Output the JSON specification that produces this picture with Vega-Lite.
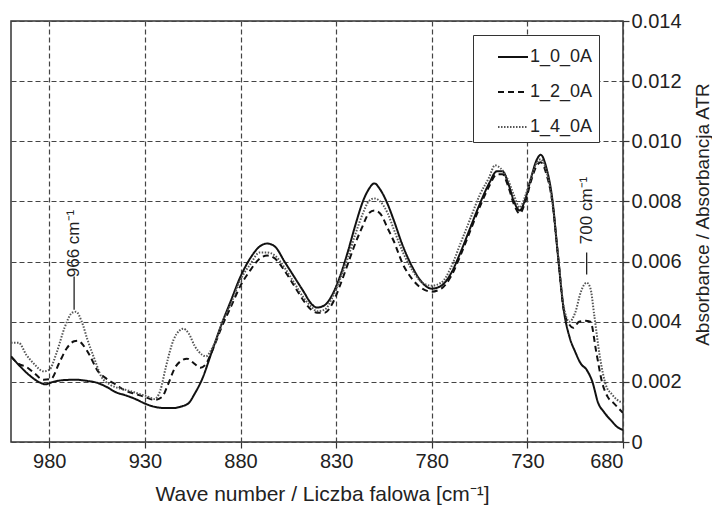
{
  "$schema": "https://vega.github.io/schema/vega-lite/v6.json",
  "width": 612,
  "height": 421,
  "autosize": {"type": "none"},
  "padding": {"left": 11, "top": 21, "right": 89, "bottom": 64},
  "background": "white",
  "config": {
    "font": "Liberation Sans",
    "view": {"stroke": "#333", "strokeWidth": 1.5},
    "axis": {
      "gridColor": "#444", "gridDash": [5, 3], "gridWidth": 1.2, "gridOpacity": 1,
      "domain": false, "tickColor": "#333", "tickSize": 6, "tickWidth": 1.2,
      "labelFont": "Liberation Sans", "labelFontSize": 20, "labelColor": "#222",
      "titleFont": "Liberation Sans", "titleFontWeight": "normal", "titleColor": "#222"
    },
    "legend": {
      "title": null, "orient": "none", "legendX": 462, "legendY": 14,
      "strokeColor": "#333", "fillColor": "white", "padding": 6,
      "symbolType": "stroke", "symbolSize": 900, "symbolOffset": 18,
      "labelFontSize": 18, "labelFont": "Liberation Sans", "labelColor": "#222", "labelOffset": 1, "rowPadding": 10
    }
  },
  "datasets": {
    "spectra": [
      {"s":"1_0_0A","wn":1000,"a":0.00285},{"s":"1_0_0A","wn":995,"a":0.0025},{"s":"1_0_0A","wn":990,"a":0.0022},{"s":"1_0_0A","wn":985,"a":0.00198},{"s":"1_0_0A","wn":982,"a":0.00192},{"s":"1_0_0A","wn":978,"a":0.002},{"s":"1_0_0A","wn":972,"a":0.00206},{"s":"1_0_0A","wn":966,"a":0.00207},{"s":"1_0_0A","wn":960,"a":0.00203},{"s":"1_0_0A","wn":955,"a":0.00197},{"s":"1_0_0A","wn":950,"a":0.00183},{"s":"1_0_0A","wn":945,"a":0.00165},{"s":"1_0_0A","wn":940,"a":0.00155},{"s":"1_0_0A","wn":935,"a":0.00143},{"s":"1_0_0A","wn":930,"a":0.00128},{"s":"1_0_0A","wn":925,"a":0.00117},{"s":"1_0_0A","wn":920,"a":0.00113},{"s":"1_0_0A","wn":915,"a":0.00113},{"s":"1_0_0A","wn":911,"a":0.00118},{"s":"1_0_0A","wn":907,"a":0.0013},{"s":"1_0_0A","wn":904,"a":0.0016},{"s":"1_0_0A","wn":900,"a":0.0021},{"s":"1_0_0A","wn":895,"a":0.003},{"s":"1_0_0A","wn":890,"a":0.0039},{"s":"1_0_0A","wn":885,"a":0.0047},{"s":"1_0_0A","wn":880,"a":0.0055},{"s":"1_0_0A","wn":875,"a":0.0061},{"s":"1_0_0A","wn":870,"a":0.0065},{"s":"1_0_0A","wn":866,"a":0.0066},{"s":"1_0_0A","wn":862,"a":0.0065},{"s":"1_0_0A","wn":857,"a":0.006},{"s":"1_0_0A","wn":852,"a":0.0055},{"s":"1_0_0A","wn":847,"a":0.005},{"s":"1_0_0A","wn":843,"a":0.0046},{"s":"1_0_0A","wn":840,"a":0.00447},{"s":"1_0_0A","wn":836,"a":0.00455},{"s":"1_0_0A","wn":832,"a":0.0049},{"s":"1_0_0A","wn":828,"a":0.0055},{"s":"1_0_0A","wn":824,"a":0.0063},{"s":"1_0_0A","wn":820,"a":0.0072},{"s":"1_0_0A","wn":816,"a":0.008},{"s":"1_0_0A","wn":813,"a":0.0084},{"s":"1_0_0A","wn":810,"a":0.0086},{"s":"1_0_0A","wn":807,"a":0.0084},{"s":"1_0_0A","wn":803,"a":0.0079},{"s":"1_0_0A","wn":800,"a":0.0074},{"s":"1_0_0A","wn":795,"a":0.0065},{"s":"1_0_0A","wn":790,"a":0.0058},{"s":"1_0_0A","wn":785,"a":0.0053},{"s":"1_0_0A","wn":780,"a":0.0051},{"s":"1_0_0A","wn":775,"a":0.0052},{"s":"1_0_0A","wn":770,"a":0.0056},{"s":"1_0_0A","wn":765,"a":0.0063},{"s":"1_0_0A","wn":760,"a":0.0071},{"s":"1_0_0A","wn":755,"a":0.0079},{"s":"1_0_0A","wn":750,"a":0.0086},{"s":"1_0_0A","wn":746,"a":0.009},{"s":"1_0_0A","wn":743,"a":0.009},{"s":"1_0_0A","wn":740,"a":0.0086},{"s":"1_0_0A","wn":737,"a":0.008},{"s":"1_0_0A","wn":734,"a":0.0077},{"s":"1_0_0A","wn":731,"a":0.0081},{"s":"1_0_0A","wn":728,"a":0.0088},{"s":"1_0_0A","wn":725,"a":0.0094},{"s":"1_0_0A","wn":723,"a":0.00955},{"s":"1_0_0A","wn":720,"a":0.0091},{"s":"1_0_0A","wn":717,"a":0.0081},{"s":"1_0_0A","wn":714,"a":0.0062},{"s":"1_0_0A","wn":711,"a":0.0044},{"s":"1_0_0A","wn":708,"a":0.0035},{"s":"1_0_0A","wn":705,"a":0.003},{"s":"1_0_0A","wn":702,"a":0.0026},{"s":"1_0_0A","wn":699,"a":0.0024},{"s":"1_0_0A","wn":696,"a":0.002},{"s":"1_0_0A","wn":693,"a":0.0013},{"s":"1_0_0A","wn":690,"a":0.001},{"s":"1_0_0A","wn":686,"a":0.0007},{"s":"1_0_0A","wn":683,"a":0.0005},{"s":"1_0_0A","wn":680,"a":0.0004},

      {"s":"1_2_0A","wn":1000,"a":0.00284},{"s":"1_2_0A","wn":996,"a":0.0026},{"s":"1_2_0A","wn":992,"a":0.0025},{"s":"1_2_0A","wn":988,"a":0.0023},{"s":"1_2_0A","wn":983,"a":0.00207},{"s":"1_2_0A","wn":979,"a":0.0021},{"s":"1_2_0A","wn":975,"a":0.0026},{"s":"1_2_0A","wn":971,"a":0.0031},{"s":"1_2_0A","wn":967,"a":0.00335},{"s":"1_2_0A","wn":965,"a":0.00337},{"s":"1_2_0A","wn":962,"a":0.0032},{"s":"1_2_0A","wn":959,"a":0.0029},{"s":"1_2_0A","wn":955,"a":0.0024},{"s":"1_2_0A","wn":950,"a":0.0021},{"s":"1_2_0A","wn":945,"a":0.0019},{"s":"1_2_0A","wn":940,"a":0.0017},{"s":"1_2_0A","wn":935,"a":0.0016},{"s":"1_2_0A","wn":930,"a":0.0015},{"s":"1_2_0A","wn":925,"a":0.0014},{"s":"1_2_0A","wn":921,"a":0.0015},{"s":"1_2_0A","wn":918,"a":0.0019},{"s":"1_2_0A","wn":914,"a":0.0025},{"s":"1_2_0A","wn":911,"a":0.0027},{"s":"1_2_0A","wn":908,"a":0.00277},{"s":"1_2_0A","wn":904,"a":0.0026},{"s":"1_2_0A","wn":901,"a":0.00247},{"s":"1_2_0A","wn":898,"a":0.0026},{"s":"1_2_0A","wn":895,"a":0.003},{"s":"1_2_0A","wn":890,"a":0.0038},{"s":"1_2_0A","wn":885,"a":0.0045},{"s":"1_2_0A","wn":880,"a":0.0052},{"s":"1_2_0A","wn":875,"a":0.0057},{"s":"1_2_0A","wn":870,"a":0.0061},{"s":"1_2_0A","wn":866,"a":0.0062},{"s":"1_2_0A","wn":862,"a":0.0061},{"s":"1_2_0A","wn":857,"a":0.0057},{"s":"1_2_0A","wn":852,"a":0.0052},{"s":"1_2_0A","wn":847,"a":0.0047},{"s":"1_2_0A","wn":843,"a":0.0044},{"s":"1_2_0A","wn":840,"a":0.0043},{"s":"1_2_0A","wn":836,"a":0.0043},{"s":"1_2_0A","wn":832,"a":0.0046},{"s":"1_2_0A","wn":828,"a":0.0052},{"s":"1_2_0A","wn":824,"a":0.0059},{"s":"1_2_0A","wn":820,"a":0.0066},{"s":"1_2_0A","wn":816,"a":0.0072},{"s":"1_2_0A","wn":813,"a":0.0076},{"s":"1_2_0A","wn":810,"a":0.0077},{"s":"1_2_0A","wn":807,"a":0.0076},{"s":"1_2_0A","wn":803,"a":0.0071},{"s":"1_2_0A","wn":800,"a":0.0067},{"s":"1_2_0A","wn":795,"a":0.0059},{"s":"1_2_0A","wn":790,"a":0.0054},{"s":"1_2_0A","wn":785,"a":0.0051},{"s":"1_2_0A","wn":780,"a":0.005},{"s":"1_2_0A","wn":775,"a":0.0051},{"s":"1_2_0A","wn":770,"a":0.0055},{"s":"1_2_0A","wn":765,"a":0.0062},{"s":"1_2_0A","wn":760,"a":0.007},{"s":"1_2_0A","wn":755,"a":0.0078},{"s":"1_2_0A","wn":750,"a":0.0085},{"s":"1_2_0A","wn":746,"a":0.0089},{"s":"1_2_0A","wn":743,"a":0.0089},{"s":"1_2_0A","wn":740,"a":0.0085},{"s":"1_2_0A","wn":737,"a":0.0079},{"s":"1_2_0A","wn":734,"a":0.0076},{"s":"1_2_0A","wn":731,"a":0.008},{"s":"1_2_0A","wn":728,"a":0.0087},{"s":"1_2_0A","wn":725,"a":0.0092},{"s":"1_2_0A","wn":723,"a":0.0093},{"s":"1_2_0A","wn":720,"a":0.0089},{"s":"1_2_0A","wn":717,"a":0.008},{"s":"1_2_0A","wn":714,"a":0.0062},{"s":"1_2_0A","wn":711,"a":0.0044},{"s":"1_2_0A","wn":708,"a":0.0039},{"s":"1_2_0A","wn":706,"a":0.0038},{"s":"1_2_0A","wn":703,"a":0.004},{"s":"1_2_0A","wn":700,"a":0.00403},{"s":"1_2_0A","wn":697,"a":0.004},{"s":"1_2_0A","wn":694,"a":0.003},{"s":"1_2_0A","wn":691,"a":0.002},{"s":"1_2_0A","wn":688,"a":0.0015},{"s":"1_2_0A","wn":685,"a":0.0013},{"s":"1_2_0A","wn":680,"a":0.00097},

      {"s":"1_4_0A","wn":1000,"a":0.0033},{"s":"1_4_0A","wn":996,"a":0.0033},{"s":"1_4_0A","wn":992,"a":0.0029},{"s":"1_4_0A","wn":988,"a":0.0026},{"s":"1_4_0A","wn":983,"a":0.00235},{"s":"1_4_0A","wn":980,"a":0.0024},{"s":"1_4_0A","wn":976,"a":0.003},{"s":"1_4_0A","wn":972,"a":0.0038},{"s":"1_4_0A","wn":968,"a":0.0043},{"s":"1_4_0A","wn":966,"a":0.00433},{"s":"1_4_0A","wn":963,"a":0.004},{"s":"1_4_0A","wn":960,"a":0.0034},{"s":"1_4_0A","wn":956,"a":0.0027},{"s":"1_4_0A","wn":953,"a":0.0022},{"s":"1_4_0A","wn":948,"a":0.0019},{"s":"1_4_0A","wn":943,"a":0.00178},{"s":"1_4_0A","wn":938,"a":0.0017},{"s":"1_4_0A","wn":933,"a":0.0016},{"s":"1_4_0A","wn":928,"a":0.0015},{"s":"1_4_0A","wn":925,"a":0.00143},{"s":"1_4_0A","wn":922,"a":0.0017},{"s":"1_4_0A","wn":919,"a":0.0025},{"s":"1_4_0A","wn":915,"a":0.0034},{"s":"1_4_0A","wn":912,"a":0.0037},{"s":"1_4_0A","wn":910,"a":0.00377},{"s":"1_4_0A","wn":907,"a":0.0036},{"s":"1_4_0A","wn":904,"a":0.0032},{"s":"1_4_0A","wn":900,"a":0.0029},{"s":"1_4_0A","wn":898,"a":0.00285},{"s":"1_4_0A","wn":895,"a":0.0031},{"s":"1_4_0A","wn":892,"a":0.0035},{"s":"1_4_0A","wn":890,"a":0.0039},{"s":"1_4_0A","wn":885,"a":0.0046},{"s":"1_4_0A","wn":880,"a":0.0054},{"s":"1_4_0A","wn":875,"a":0.0059},{"s":"1_4_0A","wn":870,"a":0.0063},{"s":"1_4_0A","wn":866,"a":0.0063},{"s":"1_4_0A","wn":862,"a":0.0062},{"s":"1_4_0A","wn":857,"a":0.0058},{"s":"1_4_0A","wn":852,"a":0.0053},{"s":"1_4_0A","wn":847,"a":0.0048},{"s":"1_4_0A","wn":843,"a":0.0045},{"s":"1_4_0A","wn":840,"a":0.00435},{"s":"1_4_0A","wn":836,"a":0.0044},{"s":"1_4_0A","wn":832,"a":0.0048},{"s":"1_4_0A","wn":828,"a":0.0054},{"s":"1_4_0A","wn":824,"a":0.0061},{"s":"1_4_0A","wn":820,"a":0.0069},{"s":"1_4_0A","wn":816,"a":0.0076},{"s":"1_4_0A","wn":813,"a":0.008},{"s":"1_4_0A","wn":810,"a":0.0081},{"s":"1_4_0A","wn":807,"a":0.008},{"s":"1_4_0A","wn":803,"a":0.0076},{"s":"1_4_0A","wn":800,"a":0.0071},{"s":"1_4_0A","wn":795,"a":0.0063},{"s":"1_4_0A","wn":790,"a":0.0057},{"s":"1_4_0A","wn":785,"a":0.0053},{"s":"1_4_0A","wn":780,"a":0.0052},{"s":"1_4_0A","wn":775,"a":0.0053},{"s":"1_4_0A","wn":770,"a":0.0058},{"s":"1_4_0A","wn":765,"a":0.0066},{"s":"1_4_0A","wn":760,"a":0.0074},{"s":"1_4_0A","wn":755,"a":0.0082},{"s":"1_4_0A","wn":750,"a":0.0088},{"s":"1_4_0A","wn":747,"a":0.0092},{"s":"1_4_0A","wn":744,"a":0.0091},{"s":"1_4_0A","wn":740,"a":0.0087},{"s":"1_4_0A","wn":737,"a":0.0082},{"s":"1_4_0A","wn":734,"a":0.0078},{"s":"1_4_0A","wn":731,"a":0.0082},{"s":"1_4_0A","wn":728,"a":0.0088},{"s":"1_4_0A","wn":725,"a":0.0093},{"s":"1_4_0A","wn":723,"a":0.0094},{"s":"1_4_0A","wn":720,"a":0.009},{"s":"1_4_0A","wn":717,"a":0.008},{"s":"1_4_0A","wn":714,"a":0.0062},{"s":"1_4_0A","wn":711,"a":0.0045},{"s":"1_4_0A","wn":708,"a":0.004},{"s":"1_4_0A","wn":705,"a":0.0043},{"s":"1_4_0A","wn":702,"a":0.005},{"s":"1_4_0A","wn":699,"a":0.0053},{"s":"1_4_0A","wn":697,"a":0.0051},{"s":"1_4_0A","wn":695,"a":0.0042},{"s":"1_4_0A","wn":692,"a":0.0028},{"s":"1_4_0A","wn":689,"a":0.0019},{"s":"1_4_0A","wn":686,"a":0.0016},{"s":"1_4_0A","wn":683,"a":0.0014},{"s":"1_4_0A","wn":680,"a":0.0013}
    ],
    "notes": [
      {"wn": 967, "ytext": 0.0066, "y1": 0.0044, "y2": 0.0055, "label": "966 cm⁻¹"},
      {"wn": 699, "ytext": 0.0077, "y1": 0.00557, "y2": 0.0063, "label": "700 cm⁻¹"}
    ]
  },
  "layer": [
    {
      "data": {"name": "spectra"},
      "mark": {"type": "line", "interpolate": "monotone", "clip": true},
      "encoding": {
        "x": {
          "field": "wn", "type": "quantitative",
          "scale": {"domain": [680, 1000], "reverse": true, "nice": false, "zero": false},
          "axis": {"orient": "bottom", "values": [980, 930, 880, 830, 780, 730, 680], "labelPadding": 3, "title": "Wave number / Liczba falowa [cm⁻¹]", "titleFontSize": 21, "titlePadding": 12, "titleX": 311}
        },
        "y": {
          "field": "a", "type": "quantitative",
          "scale": {"domain": [0, 0.014], "nice": false},
          "axis": {"orient": "right", "values": [0, 0.002, 0.004, 0.006, 0.008, 0.01, 0.012, 0.014], "labelExpr": "datum.value == 0 ? '0' : format(datum.value, '.3f')", "labelPadding": 2, "title": "Absorbance / Absorbancja ATR", "titleFontSize": 19, "titleAngle": 270, "titleBaseline": "middle", "titleX": 79, "titleY": 193}
        },
        "strokeDash": {
          "field": "s", "type": "nominal",
          "scale": {"domain": ["1_0_0A", "1_2_0A", "1_4_0A"], "range": [[1, 0], [6, 4], [1.5, 1.5]]}
        },
        "color": {
          "field": "s", "type": "nominal",
          "scale": {"domain": ["1_0_0A", "1_2_0A", "1_4_0A"], "range": ["#111111", "#111111", "#555555"]}
        },
        "strokeWidth": {
          "field": "s", "type": "nominal",
          "scale": {"domain": ["1_0_0A", "1_2_0A", "1_4_0A"], "range": [2, 2, 1.3]}
        }
      }
    },
    {
      "data": {"name": "notes"},
      "mark": {"type": "rule", "color": "#222", "strokeWidth": 1.3},
      "encoding": {
        "x": {"field": "wn", "type": "quantitative"},
        "y": {"field": "y1", "type": "quantitative"},
        "y2": {"field": "y2"}
      }
    },
    {
      "data": {"name": "notes"},
      "mark": {"type": "text", "angle": 270, "fontSize": 17, "font": "Liberation Sans", "color": "#222", "align": "center", "baseline": "middle"},
      "encoding": {
        "x": {"field": "wn", "type": "quantitative"},
        "y": {"field": "ytext", "type": "quantitative"},
        "text": {"field": "label"}
      }
    }
  ]
}
